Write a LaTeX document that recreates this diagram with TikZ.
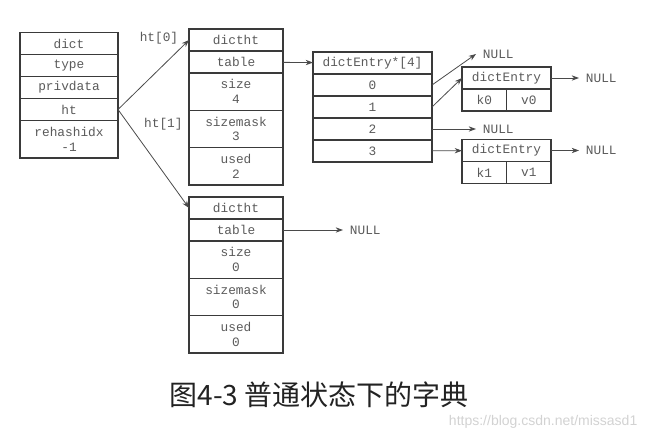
\documentclass[tikz,border=0pt]{standalone}
\usepackage{fontspec}
\setmonofont{Liberation Mono}
\newfontfamily\cjk{Noto Sans CJK SC}
\newfontfamily\wmark{Liberation Sans}
\usetikzlibrary{arrows.meta, positioning}
\definecolor{boxline}{HTML}{3A3A3A}
\definecolor{txt}{HTML}{5A5A5A}
\definecolor{linegray}{HTML}{4A4A4A}
\definecolor{captxt}{HTML}{222222}
\definecolor{wmgray}{HTML}{D2D2D2}

\begin{document}
\begin{tikzpicture}[x=0.75pt,y=-0.75pt,->,>={Stealth[length=5.5pt,width=4pt]},
  cell/.style={draw=boxline,line width=1.2pt,inner sep=0pt,outer sep=0pt,minimum height=16.5pt,
    text=txt,align=center,font=\ttfamily\fontsize{9.6pt}{11pt}\selectfont},
  dictcell/.style={cell,minimum width=73.5pt},
  htcell/.style={cell,minimum width=70.5pt},
  arrcell/.style={cell,minimum width=89.25pt},
  entcell/.style={cell,minimum width=66.75pt},
  kvcell/.style={cell,minimum width=33.375pt},
  tall/.style={minimum height=28pt},
  null/.style={inner xsep=5pt,text=txt,font=\ttfamily\fontsize{9.6pt}{11pt}\selectfont},
  link/.style={draw=linegray,line width=0.6pt}]
  \useasboundingbox (0,0) rectangle (648,440);

  % dict
  \node[dictcell, anchor=north] (dict) at (69,32.5) {dict};
  \node[dictcell, below=0pt of dict] (type) {type};
  \node[dictcell, below=0pt of type] (privdata) {privdata};
  \node[dictcell, below=0pt of privdata] (ht) {ht};
  \node[dictcell, tall, below=0pt of ht] (rehash) {rehashidx\\-1};

  % ht[0]
  \node[htcell, anchor=north] (h0) at (236,29) {dictht};
  \node[htcell, below=0pt of h0] (h0table) {table};
  \node[htcell, tall, below=0pt of h0table] (h0size) {size\\4};
  \node[htcell, tall, below=0pt of h0size] (h0mask) {sizemask\\3};
  \node[htcell, tall, below=0pt of h0mask] (h0used) {used\\2};

  % ht[1]
  \node[htcell, anchor=north] (h1) at (236,197) {dictht};
  \node[htcell, below=0pt of h1] (h1table) {table};
  \node[htcell, tall, below=0pt of h1table] (h1size) {size\\0};
  \node[htcell, tall, below=0pt of h1size] (h1mask) {sizemask\\0};
  \node[htcell, tall, below=0pt of h1mask] (h1used) {used\\0};
  \node[null, right=45pt of h1table] (nh1) {NULL};

  % table
  \node[arrcell, anchor=north] (arr) at (372.5,52) {dictEntry*[4]};
  \node[arrcell, below=0pt of arr] (a0) {0};
  \node[arrcell, below=0pt of a0] (a1) {1};
  \node[arrcell, below=0pt of a1] (a2) {2};
  \node[arrcell, below=0pt of a2] (a3) {3};
  \node[null, anchor=west] (n0) at (476,54) {NULL};
  \node[null, right=33pt of a2] (n2) {NULL};

  % entries
  \node[entcell, anchor=north] (e0) at (506.5,67) {dictEntry};
  \node[kvcell, anchor=north west] (k0) at (e0.south west) {k0};
  \node[kvcell, right=0pt of k0] (v0) {v0};
  \node[null, right=21pt of e0] (ne0) {NULL};
  \node[entcell, anchor=north] (e1) at (506.5,139.5) {dictEntry};
  \node[kvcell, anchor=north west] (k1) at (e1.south west) {k1};
  \node[kvcell, right=0pt of k1] (v1) {v1};
  \node[null, right=21pt of e1] (ne1) {NULL};

  \path[every edge/.append style={link},
    every node/.style={text=txt,font=\ttfamily\fontsize{9.6pt}{11pt}\selectfont}]
    (ht.east) edge node[at end, anchor=east, xshift=-4.5pt, yshift=1.4pt]{ht[0]} (h0.west)
              edge node[pos=0.15, anchor=west, xshift=8pt]{ht[1]} (h1.west)
    (h0table) edge (arr)
    (h1table) edge (nh1)
    (a0.east) edge (n0.west)
    (a1.east) edge (e0.west)
    (a2) edge (n2)
    (a3) edge (e1)
    (e0) edge (ne0)
    (e1) edge (ne1);

  \node[text=captxt, font=\cjk\fontsize{21pt}{25pt}\selectfont] (caption) at (319,395) {图4-3 普通状态下的字典};
  \node[text=wmgray, font=\wmark\fontsize{10.5pt}{12pt}\selectfont, anchor=east] (wm) at (642,422) {https://blog.csdn.net/missasd1};
\end{tikzpicture}
\end{document}
